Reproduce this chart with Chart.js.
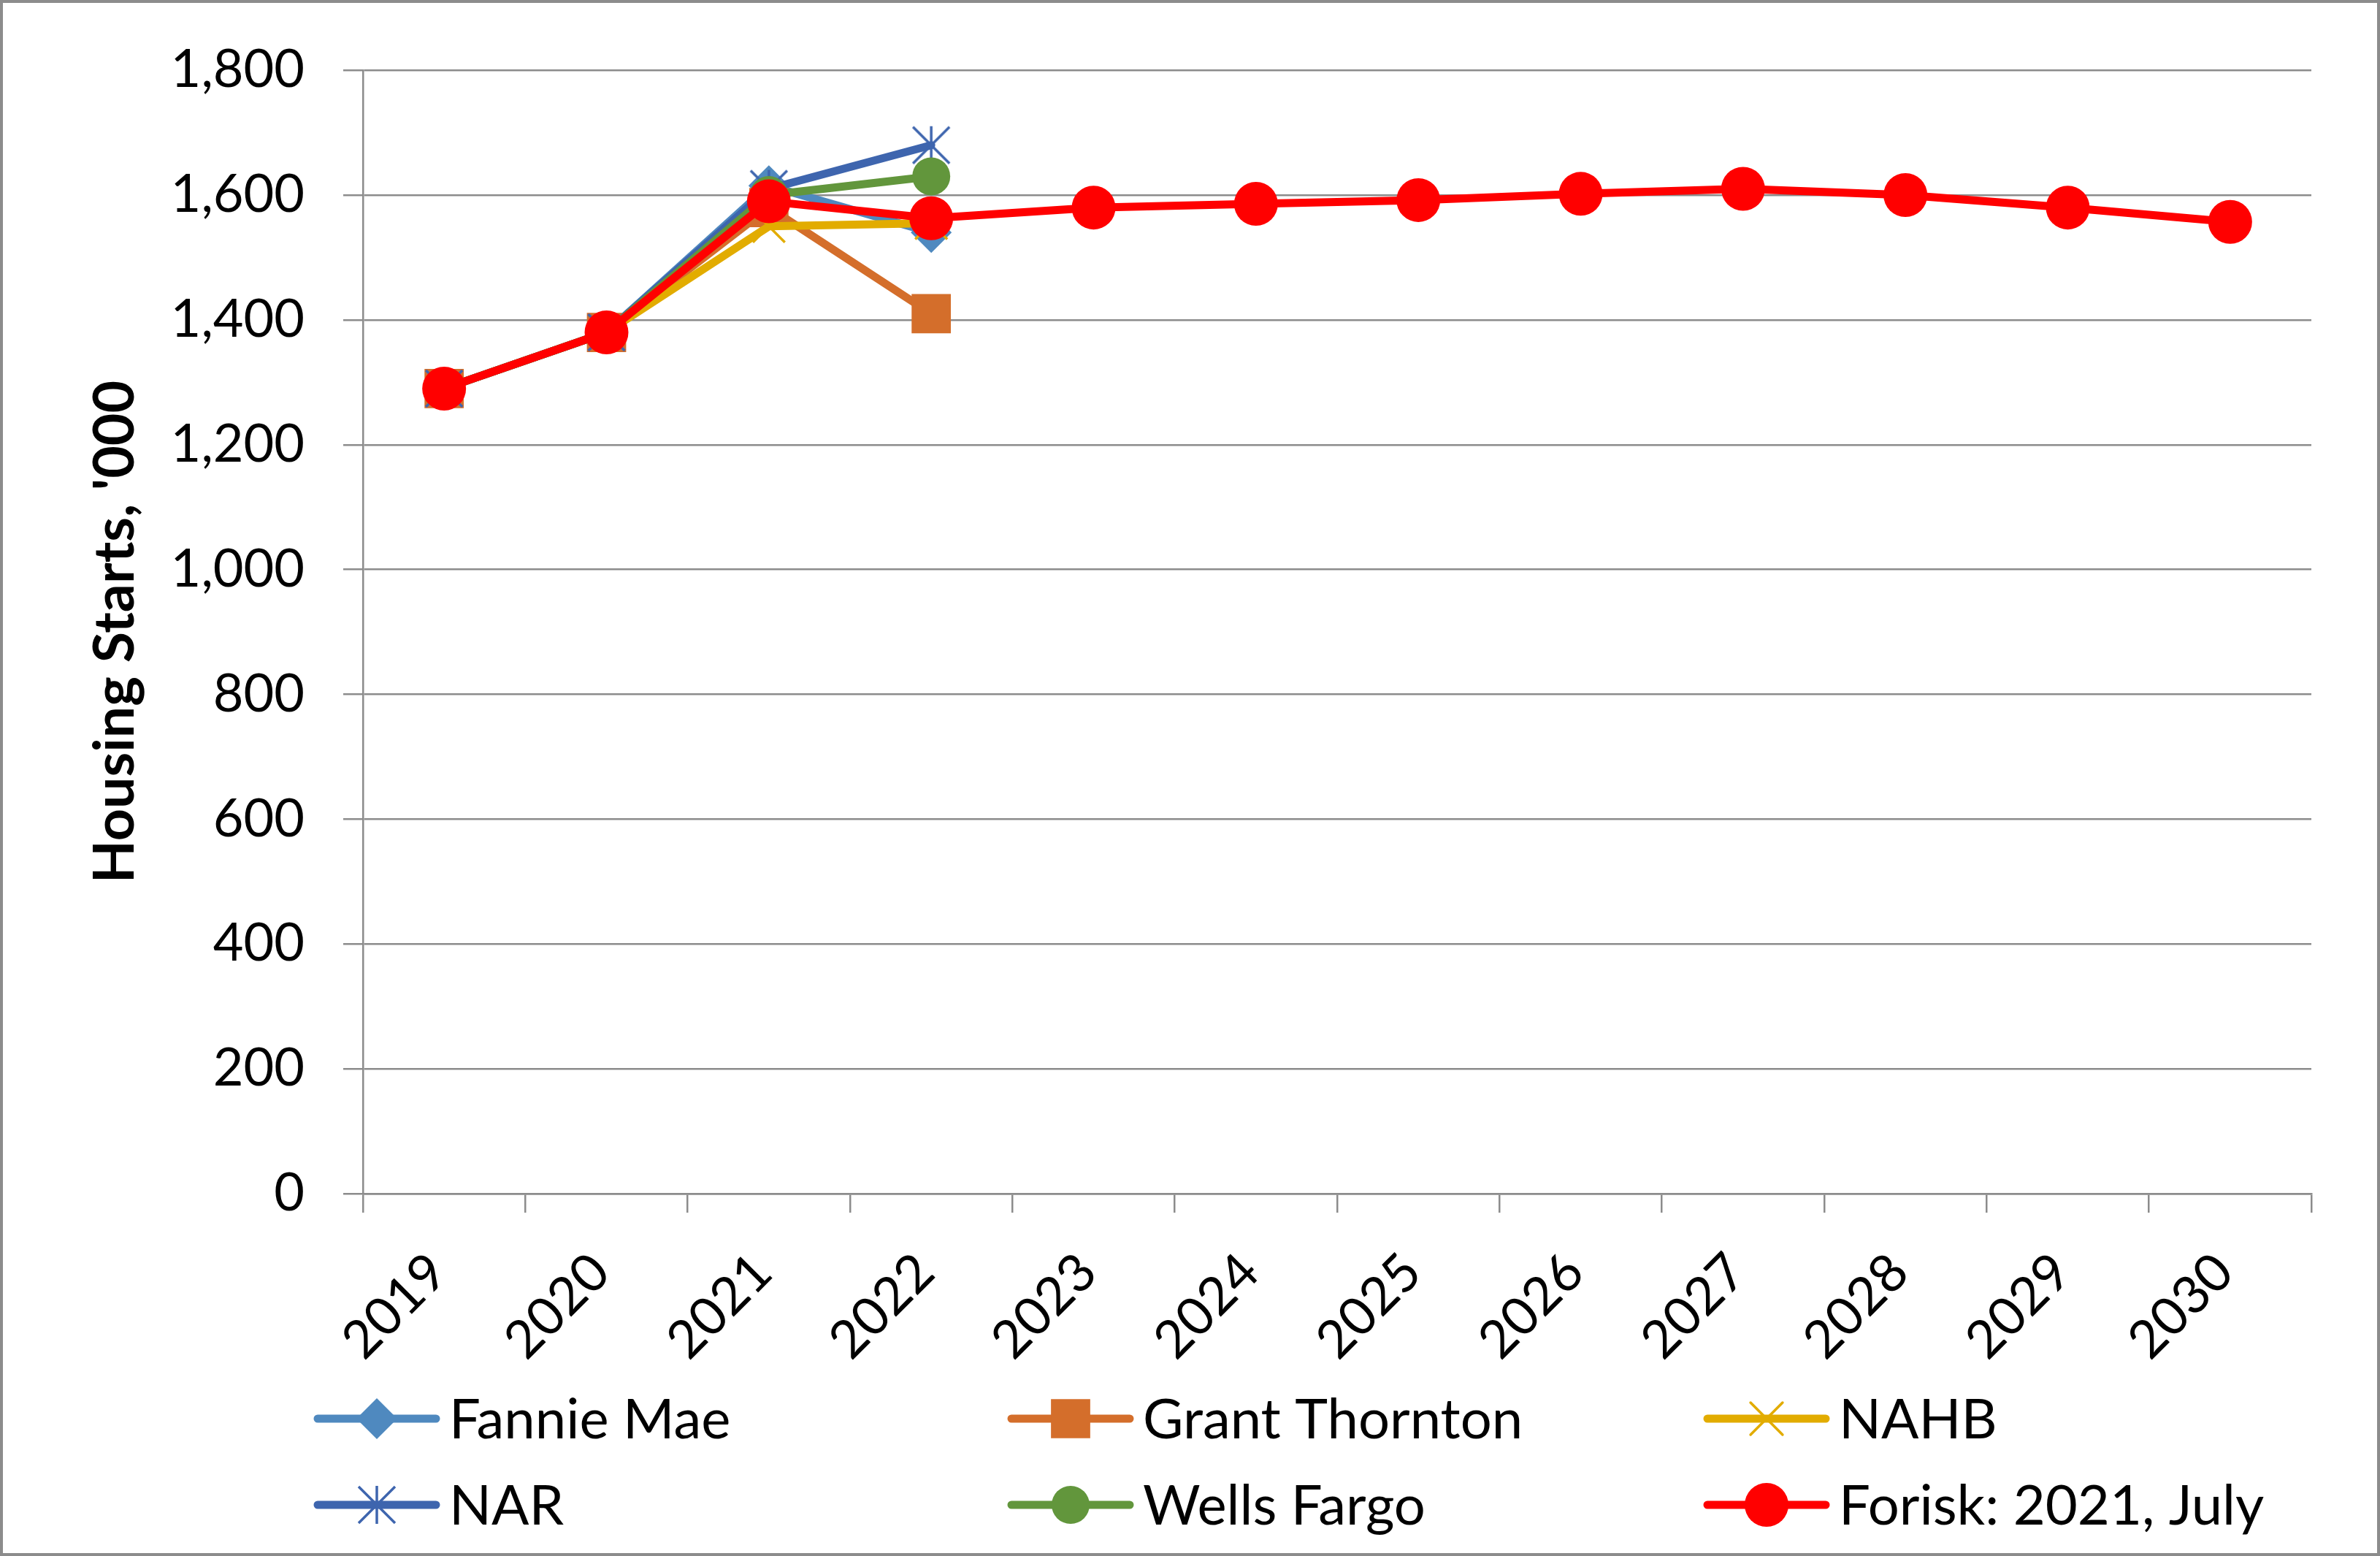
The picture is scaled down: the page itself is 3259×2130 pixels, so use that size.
<!DOCTYPE html>
<html>
<head>
<meta charset="utf-8">
<title>Housing Starts forecasts</title>
<script src="https://cdn.jsdelivr.net/npm/chart.js@4.4.1/dist/chart.umd.min.js"></script>
<style>
  html, body { margin: 0; padding: 0; background: #fff; }
  #wrap { width: 3259px; height: 2130px; position: relative; }
</style>
</head>
<body>
<div id="wrap"><canvas id="housingChart"></canvas></div>
<script>
// categories
const years = ['2019', '2020', '2021', '2022', '2023', '2024', '2025', '2026', '2027', '2028', '2029', '2030'];

// series values, housing starts in thousands
const fannieMae     = [1290, 1380, 1615, 1540, null, null, null, null, null, null, null, null];
const grantThornton = [1290, 1380, 1580, 1410, null, null, null, null, null, null, null, null];
const nahb          = [1290, 1380, 1550, 1555, null, null, null, null, null, null, null, null];
const nar           = [1290, 1380, 1610, 1680, null, null, null, null, null, null, null, null];
const wellsFargo    = [1290, 1380, 1600, 1630, null, null, null, null, null, null, null, null];
const forisk        = [1290, 1380, 1590, 1563, 1580, 1586, 1592, 1602, 1610, 1600, 1580, 1557];

// y axis ticks
const yMin = 0;
const yMax = 1800;
const yStep = 200;

const FONT = 'Lato, "Open Sans", sans-serif';
const GRID = '#8c8c8c';

// Excel style "star" marker: vertical bar plus an X, no horizontal bar
function starMarker(color) {
  const c = document.createElement('canvas');
  c.width = 54; c.height = 54;
  const g = c.getContext('2d');
  g.strokeStyle = color;
  g.lineWidth = 3.5;
  g.beginPath();
  g.moveTo(27, 1); g.lineTo(27, 53);
  g.moveTo(2, 2); g.lineTo(52, 52);
  g.moveTo(52, 2); g.lineTo(2, 52);
  g.stroke();
  return c;
}

function series(label, data, color, style, radius, order, extra) {
  return Object.assign({
    label: label,
    data: data,
    borderColor: color,
    backgroundColor: color,
    pointBackgroundColor: color,
    pointBorderColor: color,
    borderWidth: 11,
    borderCapStyle: 'round',
    borderJoinStyle: 'round',
    pointStyle: style,
    pointRadius: radius,
    pointHoverRadius: radius,
    pointBorderWidth: 0,
    tension: 0,
    spanGaps: false,
    order: order
  }, extra || {});
}

const datasets = [
  series('Fannie Mae', fannieMae, '#4f89bf', 'rectRot', 28, 6),
  series('Grant Thornton', grantThornton, '#d46e2b', 'rect', 38, 5),
  series('NAHB', nahb, '#e2ac00', 'crossRot', 31, 4, { pointBorderWidth: 3.5 }),
  series('NAR', nar, '#3e65ae', starMarker('#3e65ae'), 27, 3),
  series('Wells Fargo', wellsFargo, '#62963c', 'circle', 26, 2),
  series('Forisk: 2021, July', forisk, '#ff0000', 'circle', 30, 1)
];

// white page with the grey frame round the whole chart
const frame = {
  id: 'frame',
  beforeDraw(chart) {
    const ctx = chart.ctx;
    ctx.save();
    ctx.fillStyle = '#fff';
    ctx.fillRect(0, 0, chart.width, chart.height);
    ctx.strokeStyle = '#8c8c8c';
    ctx.lineWidth = 4;
    ctx.strokeRect(2, 2, chart.width - 4, chart.height - 4);
    ctx.restore();
  }
};

// legend laid out as Excel does it: 3 columns, 2 rows, line with marker
const gridLegend = {
  id: 'gridLegend',
  afterDraw(chart) {
    const ctx = chart.ctx;
    const colX = [430, 1380, 2333];
    const rowY = [1942, 2060];
    const lineLen = 172;
    ctx.save();
    chart.data.datasets.forEach((ds, i) => {
      const x = colX[i % 3];
      const y = rowY[Math.floor(i / 3)];
      ctx.strokeStyle = ds.borderColor;
      ctx.lineWidth = ds.borderWidth;
      ctx.lineCap = 'round';
      ctx.beginPath();
      ctx.moveTo(x + 5, y);
      ctx.lineTo(x + lineLen - 5, y);
      ctx.stroke();
      ctx.fillStyle = ds.pointBackgroundColor;
      ctx.strokeStyle = ds.pointBorderColor;
      ctx.lineWidth = ds.pointBorderWidth || 0;
      Chart.helpers.drawPoint(ctx, {
        pointStyle: ds.pointStyle,
        radius: ds.pointRadius,
        rotation: 0,
        borderWidth: ds.pointBorderWidth || 0
      }, x + lineLen / 2, y);
      ctx.fillStyle = '#000';
      ctx.font = '76px ' + FONT;
      ctx.textBaseline = 'middle';
      ctx.textAlign = 'left';
      ctx.fillText(ds.label, x + lineLen + 13, y + 2);
    });
    ctx.restore();
  }
};

new Chart(document.getElementById('housingChart').getContext('2d'), {
  type: 'line',
  data: { labels: years, datasets: datasets },
  plugins: [frame, gridLegend],
  options: {
    responsive: true,
    maintainAspectRatio: false,
    animation: false,
    devicePixelRatio: 1,
    layout: { padding: { top: 95, right: 94, bottom: 0, left: 0 } },
    plugins: {
      legend: { display: false },
      title: { display: false },
      tooltip: { enabled: false }
    },
    scales: {
      x: {
        type: 'category',
        offset: true,
        grid: {
          display: true,
          drawOnChartArea: false,
          offset: true,
          color: GRID,
          lineWidth: 2.5,
          tickLength: 26
        },
        border: { display: true, color: GRID, width: 2.5 },
        ticks: {
          color: '#000',
          font: { family: FONT, size: 72 },
          minRotation: 45,
          maxRotation: 45,
          autoSkip: false,
          padding: 39,
          labelOffset: -8
        },
        afterFit(scale) { scale.height = 496; }
      },
      y: {
        min: yMin,
        max: yMax,
        grid: {
          color: GRID,
          lineWidth: 2.5,
          tickLength: 27
        },
        border: { display: true, color: GRID, width: 2.5 },
        ticks: {
          stepSize: yStep,
          color: '#000',
          font: { family: FONT, size: 72 },
          padding: 53,
          callback: (v) => v.toLocaleString('en-US')
        },
        title: {
          display: true,
          text: "Housing Starts, '000",
          color: '#000',
          font: { family: FONT, size: 77, weight: 'bold' },
          padding: { top: 112, bottom: 0 }
        },
        afterFit(scale) { scale.width = 497; }
      }
    }
  }
});
</script>
</body>
</html>
